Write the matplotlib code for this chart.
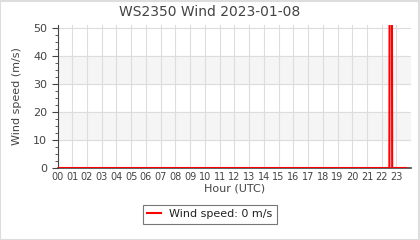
import numpy as np
import matplotlib
matplotlib.use('Agg')
import matplotlib.pyplot as plt
from matplotlib.ticker import MultipleLocator

# Data: hour of day (UTC) and wind speed (m/s); NaN marks missing samples
hours = [0.0, 3.05, 3.1, 3.17, 4.0, 4.05, 4.12, 22.52, 22.55, 22.68, 22.71, 23.65]
speeds = [0, 0, np.nan, 0, 0, np.nan, 0, 0, 120, 120, 0, 0]
hour_labels = [f"{h:02d}" for h in range(24)]

grey = '#444444'
fig = plt.figure(figsize=(4.2, 2.4), dpi=100)
ax = fig.add_axes([0.137, 0.3, 0.842, 0.596])

# alternating background bands
for lo in (10, 30):
    ax.axhspan(lo, lo + 10, color='#f5f5f5', zorder=0)

ax.plot(hours, speeds, color='#ff0000', lw=1.5, label='Wind speed: 0 m/s', zorder=3)

ax.set_xlim(0, 24)
ax.set_ylim(0, 51)
ax.set_xticks(range(24))
ax.set_xticklabels(hour_labels)
ax.yaxis.set_major_locator(MultipleLocator(10))
ax.yaxis.set_minor_locator(MultipleLocator(2.5))
ax.grid(True, which='major', color='#dddddd', lw=0.8, zorder=1)
ax.set_axisbelow(True)

for s in ('top', 'right'):
    ax.spines[s].set_visible(False)
ax.spines['left'].set_color(grey)
ax.spines['bottom'].set_color(grey)
ax.spines['bottom'].set_linewidth(1.2)

ax.tick_params(axis='x', length=0, pad=3, labelsize=7, colors=grey)
ax.tick_params(axis='y', which='major', length=4, labelsize=8, colors=grey)
ax.tick_params(axis='y', which='minor', length=2, colors=grey)

ax.set_xlabel('Hour (UTC)', fontsize=8, color=grey, labelpad=1)
ax.set_ylabel('Wind speed (m/s)', fontsize=8, color=grey, labelpad=8)
fig.text(0.5, 0.952, 'WS2350 Wind 2023-01-08', ha='center', va='center',
         fontsize=10, color=grey)

leg = fig.legend(loc='center', bbox_to_anchor=(0.5, 0.108), fontsize=8,
                 fancybox=False, framealpha=1, edgecolor='#777777',
                 handlelength=1.2, borderpad=0.4)
leg.get_frame().set_linewidth(0.8)
for t in leg.get_texts():
    t.set_color('#222222')

# light frame around the whole figure
fig.patches.append(plt.Rectangle((0.001, 0.002), 0.997, 0.995, transform=fig.transFigure,
                                 fill=False, edgecolor='#dddddd', lw=1.5))

fig.savefig('out.png', dpi=100)
